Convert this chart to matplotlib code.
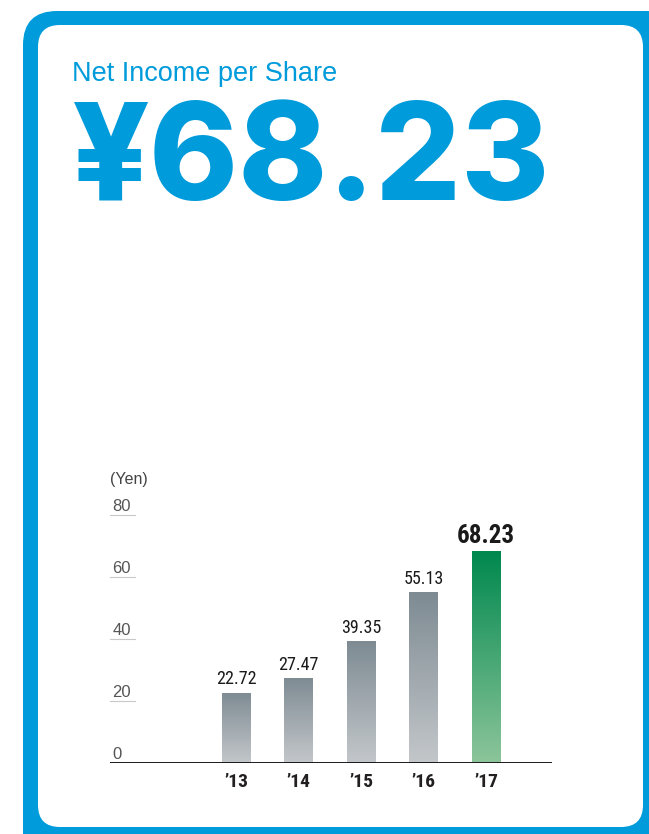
import numpy as np
import matplotlib
matplotlib.use("Agg")
import matplotlib.pyplot as plt
from matplotlib.patches import FancyBboxPatch
from matplotlib.colors import LinearSegmentedColormap
from matplotlib import font_manager
import matplotlib.transforms as mtransforms

# data
years = ["\u201913", "\u201914", "\u201915", "\u201916", "\u201917"]
eps = [22.72, 27.47, 39.35, 55.13, 68.23]
yticks = [0, 20, 40, 60, 80]

BLUE = "#009bdb"
installed = {f.name for f in font_manager.fontManager.ttflist}


def pick(*names):
    found = [n for n in names if n in installed]
    return found + ["DejaVu Sans"]


NARROW = pick("Liberation Sans Narrow", "Roboto Condensed", "Open Sans Condensed", "Liberation Sans")
SANS = pick("Liberation Sans")
BIG = pick("Inter", "Liberation Sans")
narrow_ok = NARROW[0] != "Liberation Sans"

W, H = 649, 834
fig = plt.figure(figsize=(W / 100, H / 100), dpi=100)

# card background in pixel coords
bg = fig.add_axes([0, 0, 1, 1])
bg.set_xlim(0, W)
bg.set_ylim(H, 0)
bg.axis("off")
bg.add_patch(FancyBboxPatch((23 + 34, 11 + 34), 680 - 23 - 68, 870 - 11 - 68,
                            boxstyle="round,pad=34", fc=BLUE, ec="none"))
bg.add_patch(FancyBboxPatch((38 + 22, 25 + 22), 643 - 38 - 44, 827 - 25 - 44,
                            boxstyle="round,pad=22", fc="white", ec="none"))

bg.text(72, 81, "Net Income per Share", color=BLUE, fontsize=19.5,
        family=SANS, ha="left", va="baseline")
big_size = 97 if BIG[0] == "Inter" else 101
bg.text(72, 200, "¥68.23", color=BLUE, fontsize=big_size, fontweight="heavy",
        family=BIG, ha="left", va="baseline")

# bar chart
ax_l, ax_r, ax_b, ax_t = 110, 552, 763, 515
ax = fig.add_axes([ax_l / W, (H - ax_b) / H, (ax_r - ax_l) / W, (ax_b - ax_t) / H])
ax.set_ylim(0, 80)
ax.set_xlim(-2.016, 5.056)
ax.axis("off")

gray_cmap = LinearSegmentedColormap.from_list("g", ["#c3c7ca", "#7e8b93"])
green_cmap = LinearSegmentedColormap.from_list("gr", ["#8cc59a", "#00884e"])
grad = np.linspace(0, 1, 256).reshape(-1, 1)

val_fs = 13 if narrow_ok else 11.5
last_fs = 18 if narrow_ok else 16
year_fs = 14 if narrow_ok else 12.5

x = np.arange(len(years))
bars = ax.bar(x, eps, width=0.46, color="none", edgecolor="none")
for i, (b, v) in enumerate(zip(bars, eps)):
    last = i == len(eps) - 1
    cmap = green_cmap if last else gray_cmap
    im = ax.imshow(grad, extent=[b.get_x(), b.get_x() + b.get_width(), 0, v],
                   origin="lower", aspect="auto", cmap=cmap, zorder=2)
    im.set_clip_path(b)
    ax.annotate(f"{v:.2f}", (b.get_x() + b.get_width() / 2, v),
                xytext=(0, 2.5 if last else 3), textcoords="offset points",
                ha="center", va="bottom",
                fontsize=last_fs if last else val_fs, fontweight="bold" if last else "normal",
                color="#1a1a1a", family=NARROW)
    ax.annotate(years[i], (b.get_x() + b.get_width() / 2, 0), xytext=(0, -7),
                textcoords="offset points", ha="center", va="top",
                fontsize=year_fs, fontweight="bold", color="#231f20", family=NARROW)

# baseline
ax.axhline(0, color="#1a1a1a", lw=1.4, zorder=3)

# y tick labels above short rules
trans = mtransforms.blended_transform_factory(ax.transAxes, ax.transData)
for t in yticks:
    ax.annotate(str(t), (0.005, t), xycoords=trans, xytext=(0, 0.5),
                textcoords="offset points", ha="left", va="bottom",
                fontsize=12, color="#555555", family=SANS)
    if t > 0:
        ax.plot([0, 25 / (ax_r - ax_l)], [t, t], transform=trans,
                color="#c8c8c8", lw=0.8, clip_on=False)
ax.text(0, 91.3, "(Yen)", transform=trans, ha="left", va="center",
        fontsize=11.5, color="#444444", family=SANS)

fig.savefig("out.png", dpi=100)
